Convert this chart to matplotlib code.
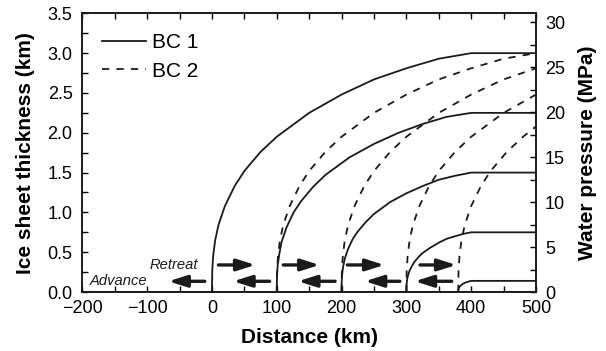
import matplotlib
matplotlib.use("Agg")
import matplotlib.pyplot as plt
from matplotlib.ticker import MultipleLocator

plt.rcParams['font.family'] = ['Liberation Sans', 'DejaVu Sans']

# ---- Data ----
# BC 1 (solid): ice sheet profiles, margin at x0, divide at 400 km
bc1_x0 = [0, 0.5, 2, 5, 10, 20, 35, 50, 75, 100, 150, 200, 250, 300, 350, 400, 500]
bc1_h0 = [0, 0.27, 0.46, 0.65, 0.84, 1.08, 1.33, 1.52, 1.76, 1.95, 2.25, 2.48, 2.67, 2.81, 2.93, 3.0, 3.0]

bc1_x1 = [100, 100.4, 101.5, 104, 107.5, 115, 126, 137.5, 156, 175, 212, 250, 288, 325, 362, 400, 500]
bc1_h1 = [0, 0.2, 0.34, 0.48, 0.63, 0.81, 1.0, 1.14, 1.32, 1.47, 1.69, 1.86, 2.0, 2.11, 2.2, 2.25, 2.25]

bc1_x2 = [200, 200.25, 201, 202.5, 205, 210, 217.5, 225, 237.5, 250, 275, 300, 325, 350, 375, 400, 500]
bc1_h2 = [0, 0.14, 0.23, 0.32, 0.42, 0.54, 0.67, 0.76, 0.88, 0.98, 1.13, 1.24, 1.33, 1.41, 1.46, 1.5, 1.5]

bc1_x3 = [300, 300.15, 300.5, 301.2, 302.5, 305, 308.8, 312.5, 318.8, 325, 337.5, 350, 362.5, 375, 387.5, 400, 500]
bc1_h3 = [0, 0.07, 0.11, 0.16, 0.21, 0.27, 0.33, 0.38, 0.44, 0.49, 0.56, 0.62, 0.67, 0.70, 0.73, 0.75, 0.75]

bc1_x4 = [380, 380.2, 380.5, 381, 382, 383.5, 385, 387.5, 390, 395, 400, 500]
bc1_h4 = [0, 0.03, 0.04, 0.05, 0.065, 0.08, 0.09, 0.105, 0.115, 0.13, 0.14, 0.14]

# BC 2 (dashed): same profile shape, margin at x0, still rising at 500 km
bc2_x1 = [100, 100.5, 102, 105, 110, 120, 135, 150, 175, 200, 250, 300, 350, 400, 450, 500]
bc2_h1 = [0, 0.27, 0.46, 0.65, 0.84, 1.08, 1.33, 1.52, 1.76, 1.95, 2.25, 2.48, 2.67, 2.81, 2.93, 3.0]

bc2_x2 = [200, 200.5, 202, 205, 210, 220, 235, 250, 275, 300, 350, 400, 450, 500]
bc2_h2 = [0, 0.27, 0.46, 0.65, 0.84, 1.08, 1.33, 1.52, 1.76, 1.95, 2.25, 2.48, 2.67, 2.81]

bc2_x3 = [300, 300.5, 302, 305, 310, 320, 335, 350, 375, 400, 450, 500]
bc2_h3 = [0, 0.27, 0.46, 0.65, 0.84, 1.08, 1.33, 1.52, 1.76, 1.95, 2.25, 2.48]

bc2_x4 = [380, 380.5, 382, 385, 390, 400, 415, 430, 455, 480, 500]
bc2_h4 = [0, 0.27, 0.46, 0.65, 0.84, 1.08, 1.33, 1.52, 1.76, 1.95, 2.08]

# Arrows (km)
retreat_start = [10, 110, 209, 321]
retreat_end = [67, 166, 266, 377]
advance_start = [-11, 89, 190, 290, 370]
advance_end = [-67, 33, 133, 236, 313]
retreat_y = 0.34
advance_y = 0.135

# ---- Plot ----
fig = plt.figure(figsize=(6.06, 3.51), dpi=100)
ax = fig.add_axes([0.1358, 0.168, 0.7487, 0.794])

ink = '#1a1a1a'
lw = 1.3
ax.plot([-200, 500], [0, 0], color=ink, lw=2.2, solid_capstyle='butt', zorder=4)

solid = [(bc1_x0, bc1_h0), (bc1_x1, bc1_h1), (bc1_x2, bc1_h2), (bc1_x3, bc1_h3), (bc1_x4, bc1_h4)]
dashed = [(bc2_x1, bc2_h1), (bc2_x2, bc2_h2), (bc2_x3, bc2_h3), (bc2_x4, bc2_h4)]
for i, (xs, hs) in enumerate(solid):
    ax.plot(xs, hs, color=ink, lw=lw, label='BC 1' if i == 0 else None)
for i, (xs, hs) in enumerate(dashed):
    ax.plot(xs, hs, color=ink, lw=lw, linestyle=(0, (4, 4)), label='BC 2' if i == 0 else None)

arrow_style = dict(arrowstyle='-|>,head_length=1.1,head_width=0.35',
                   lw=2.4, color=ink, shrinkA=0, shrinkB=0, mutation_scale=10)
for a, b in zip(retreat_start, retreat_end):
    ax.annotate('', xy=(b, retreat_y), xytext=(a, retreat_y), arrowprops=arrow_style)
for a, b in zip(advance_start, advance_end):
    ax.annotate('', xy=(b, advance_y), xytext=(a, advance_y), arrowprops=arrow_style)

ax.text(-58.6, retreat_y, 'Retreat', style='italic', fontsize=10.6, ha='center', va='center', color=ink)
ax.text(-143.4, advance_y, 'Advance', style='italic', fontsize=10.6, ha='center', va='center', color=ink)

ax.set_xlim(-200, 500)
ax.set_ylim(0, 3.5)
ax.xaxis.set_major_locator(MultipleLocator(100))
ax.xaxis.set_minor_locator(MultipleLocator(50))
ax.yaxis.set_major_locator(MultipleLocator(0.5))
ax.yaxis.set_minor_locator(MultipleLocator(0.25))
ax.yaxis.set_major_formatter(plt.FormatStrFormatter('%.1f'))
ax.tick_params(which='both', direction='in', top=True, right=False, length=4, width=1, labelsize=13)
ax.tick_params(axis='x', pad=6)
ax.tick_params(axis='y', pad=7)
ax.set_xlabel('Distance (km)', fontsize=15, fontweight='bold', labelpad=8)
ax.set_ylabel('Ice sheet thickness (km)', fontsize=15, fontweight='bold', labelpad=9)

ax2 = ax.twinx()
ax2.set_ylim(0, 31)
ax2.yaxis.set_major_locator(MultipleLocator(5))
ax2.yaxis.set_minor_locator(MultipleLocator(2.5))
ax2.tick_params(which='both', direction='in', length=4, width=1, labelsize=13, pad=6.5)
ax2.set_ylabel('Water pressure (MPa)', fontsize=15, fontweight='bold', labelpad=9)

for s in list(ax.spines.values()) + list(ax2.spines.values()):
    s.set_linewidth(1.2)
    s.set_color(ink)

ax.legend(loc='upper left', bbox_to_anchor=(0.043, 0.928), frameon=False, fontsize=15,
          handlelength=2.1, handletextpad=0.3, labelspacing=0.45, borderaxespad=0, borderpad=0)

fig.savefig('out.png', dpi=100)
